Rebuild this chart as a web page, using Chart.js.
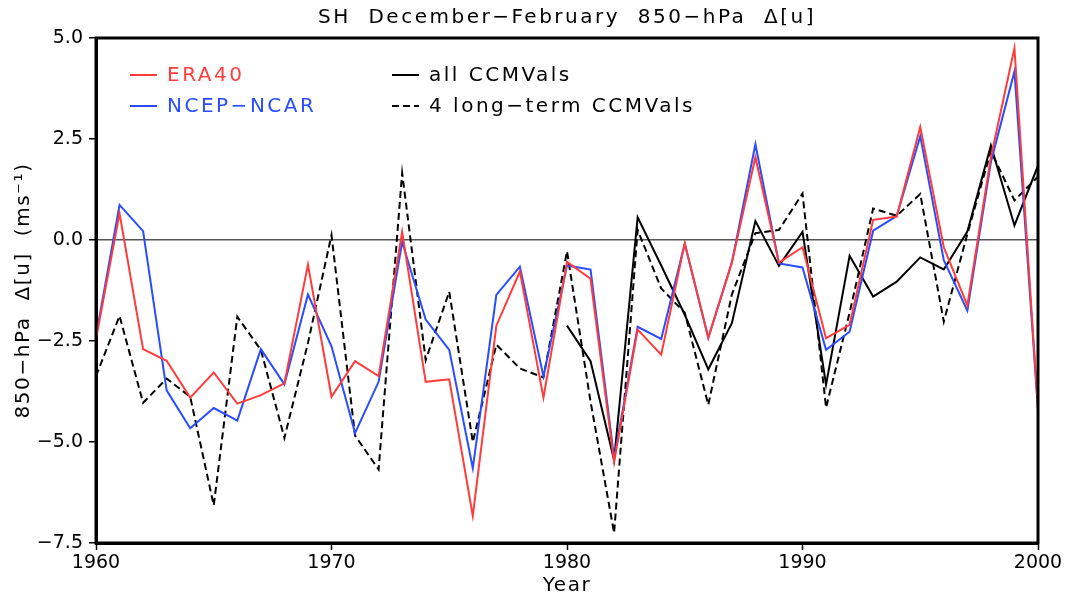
<!DOCTYPE html>
<html>
<head>
<meta charset="utf-8">
<script src="https://cdn.jsdelivr.net/npm/chart.js@4.4.1/dist/chart.umd.min.js"></script>
<style>
  html, body { margin: 0; padding: 0; background: #fff; }
  #wrap { width: 1068px; height: 600px; }
</style>
</head>
<body>
<div id="wrap"><canvas id="chart" width="1068" height="600"></canvas></div>
<script>
// DJF 850-hPa zonal wind index, 1960-2000
const years = [1960,1961,1962,1963,1964,1965,1966,1967,1968,1969,
  1970,1971,1972,1973,1974,1975,1976,1977,1978,1979,
  1980,1981,1982,1983,1984,1985,1986,1987,1988,1989,
  1990,1991,1992,1993,1994,1995,1996,1997,1998,1999,2000];

const era40 = [-2.45,0.66,-2.70,-2.99,-3.90,-3.28,-4.05,-3.84,-3.55,-0.61,
  -3.88,-3.00,-3.37,0.20,-3.51,-3.45,-6.83,-2.12,-0.78,-3.90,
  -0.54,-0.96,-5.50,-2.22,-2.84,-0.08,-2.42,-0.56,2.05,-0.56,
  -0.18,-2.43,-2.10,0.50,0.58,2.80,-0.18,-1.62,2.05,4.75,-4.20];

const ncep = [-2.38,0.87,0.22,-3.72,-4.66,-4.16,-4.47,-2.70,-3.57,-1.35,
  -2.63,-4.78,-3.51,-0.05,-1.97,-2.72,-5.65,-1.36,-0.66,-3.38,
  -0.63,-0.73,-5.40,-2.15,-2.45,-0.09,-2.42,-0.56,2.37,-0.58,
  -0.68,-2.72,-2.27,0.23,0.59,2.57,-0.50,-1.75,1.93,4.17,-4.20];

const allCcmvals = [null,null,null,null,null,null,null,null,null,null,
  null,null,null,null,null,null,null,null,null,null,
  -2.12,-3.00,-5.45,0.56,-0.63,-1.85,-3.20,-2.06,0.47,-0.64,
  0.20,-3.58,-0.39,-1.40,-1.03,-0.43,-0.73,0.21,2.34,0.36,1.84];

const longTerm = [-3.37,-1.88,-4.03,-3.43,-3.88,-6.57,-1.90,-2.72,-4.90,-2.55,
  0.12,-4.84,-5.68,1.66,-2.97,-1.28,-5.00,-2.59,-3.18,-3.40,
  -0.28,-4.00,-7.25,0.25,-1.20,-1.80,-4.08,-1.35,0.17,0.25,
  1.15,-4.15,-1.80,0.78,0.60,1.14,-2.02,0.15,2.20,0.98,1.57];

const yTicks = [-7.5,-5.0,-2.5,0.0,2.5,5.0];
const xTicks = [1960,1970,1980,1990,2000];

const FONT = "'DejaVu Sans', sans-serif";
const TITLE = 'SH  December\u2212February  850\u2212hPa  \u0394[u]';
const pts = arr => years.map((yr, i) => ({ x: yr, y: arr[i] }));
const minus = s => s.replace('-', '\u2212');

// axis titles get the wide letter spacing, tick labels do not
function spacedTitle(s) {
  if (s._spaced) return;
  const orig = s.drawTitle.bind(s);
  s.drawTitle = function () {
    s.ctx.save();
    s.ctx.letterSpacing = '1.6px';
    orig();
    s.ctx.restore();
  };
  s._spaced = true;
}

// title centred over the plot + black box round it
const frame = {
  id: 'frame',
  afterDatasetsDraw(chart) {
    const { ctx, chartArea: a } = chart;
    ctx.save();
    ctx.strokeStyle = '#000';
    ctx.lineWidth = 3;
    ctx.strokeRect(a.left, a.top, a.right - a.left, a.bottom - a.top);
    ctx.font = '20px ' + FONT;
    ctx.letterSpacing = '2.5px';
    ctx.fillStyle = '#000';
    ctx.textAlign = 'center';
    ctx.textBaseline = 'middle';
    ctx.fillText(TITLE, (a.left + a.right) / 2, 18);
    ctx.restore();
  }
};

// two-column legend inside the plot
const legendBox = {
  id: 'legendBox',
  afterDraw(chart) {
    const { ctx, chartArea: a } = chart;
    const slots = [[34, 37], [34, 68], [296, 37], [296, 68]];
    ctx.save();
    ctx.font = '20px ' + FONT;
    ctx.letterSpacing = '2.5px';
    ctx.textBaseline = 'middle';
    chart.data.datasets.forEach((ds, i) => {
      const x = a.left + slots[i][0], y = a.top + slots[i][1];
      ctx.beginPath();
      ctx.setLineDash(ds.borderDash || []);
      ctx.strokeStyle = ds.borderColor;
      ctx.lineWidth = 2;
      ctx.moveTo(x, y);
      ctx.lineTo(x + 27, y);
      ctx.stroke();
      ctx.fillStyle = ds.textColor;
      ctx.fillText(ds.label, x + 37, y + 1);
    });
    ctx.restore();
  }
};

new Chart(document.getElementById('chart'), {
  type: 'line',
  data: {
    datasets: [
      { label: 'ERA40', data: pts(era40), borderColor: '#ff3c3c', textColor: '#ff3c3c' },
      { label: 'NCEP\u2212NCAR', data: pts(ncep), borderColor: '#2a4cff', textColor: '#2a4cff' },
      { label: 'all CCMVals', data: pts(allCcmvals), borderColor: '#000', textColor: '#000' },
      { label: '4 long\u2212term CCMVals', data: pts(longTerm), borderColor: '#000', textColor: '#000', borderDash: [7, 4] }
    ].map(d => Object.assign({ borderWidth: 2, pointRadius: 0, tension: 0, fill: false, spanGaps: false }, d))
  },
  options: {
    responsive: false,
    animation: false,
    devicePixelRatio: 1,
    layout: { padding: { left: 0, right: 30, top: 38, bottom: 0 } },
    plugins: {
      legend: { display: false },
      tooltip: { enabled: false },
      title: { display: false }
    },
    scales: {
      x: {
        type: 'linear',
        min: 1960, max: 2000,
        afterFit(s) { s.height = 57; },
        afterUpdate: spacedTitle,
        afterBuildTicks(s) { s.ticks = xTicks.map(v => ({ value: v })); },
        ticks: {
          color: '#000', padding: 2, maxRotation: 0,
          font: { family: FONT, size: 19 },
          callback: v => String(v)
        },
        grid: { drawOnChartArea: false, drawTicks: true, tickLength: 7, tickColor: '#000', tickWidth: 1.5 },
        border: { display: true, color: '#000', width: 3 },
        title: {
          display: true, text: 'Year', color: '#000',
          font: { family: FONT, size: 20, lineHeight: 1.0 },
          padding: { top: 0, bottom: 4 }
        }
      },
      y: {
        min: -7.5, max: 5,
        afterFit(s) { s.width = 96; },
        afterUpdate: spacedTitle,
        afterBuildTicks(s) { s.ticks = yTicks.map(v => ({ value: v })); },
        ticks: {
          color: '#000', padding: 6,
          font: { family: FONT, size: 19 },
          callback: v => minus(v.toFixed(1))
        },
        grid: {
          drawOnChartArea: true, drawTicks: true, tickLength: 7,
          tickColor: '#000', tickWidth: 1.5,
          color: c => (c.tick && c.tick.value === 0) ? '#555' : 'rgba(0,0,0,0)',
          lineWidth: 1.5
        },
        border: { display: true, color: '#000', width: 3 },
        title: {
          display: true, text: '850\u2212hPa  \u0394[u]  (ms\u207B\u00B9)', color: '#000',
          font: { family: FONT, size: 20, lineHeight: 1.2 },
          padding: { top: 12, bottom: 0 }
        }
      }
    }
  },
  plugins: [frame, legendBox]
});
</script>
</body>
</html>
